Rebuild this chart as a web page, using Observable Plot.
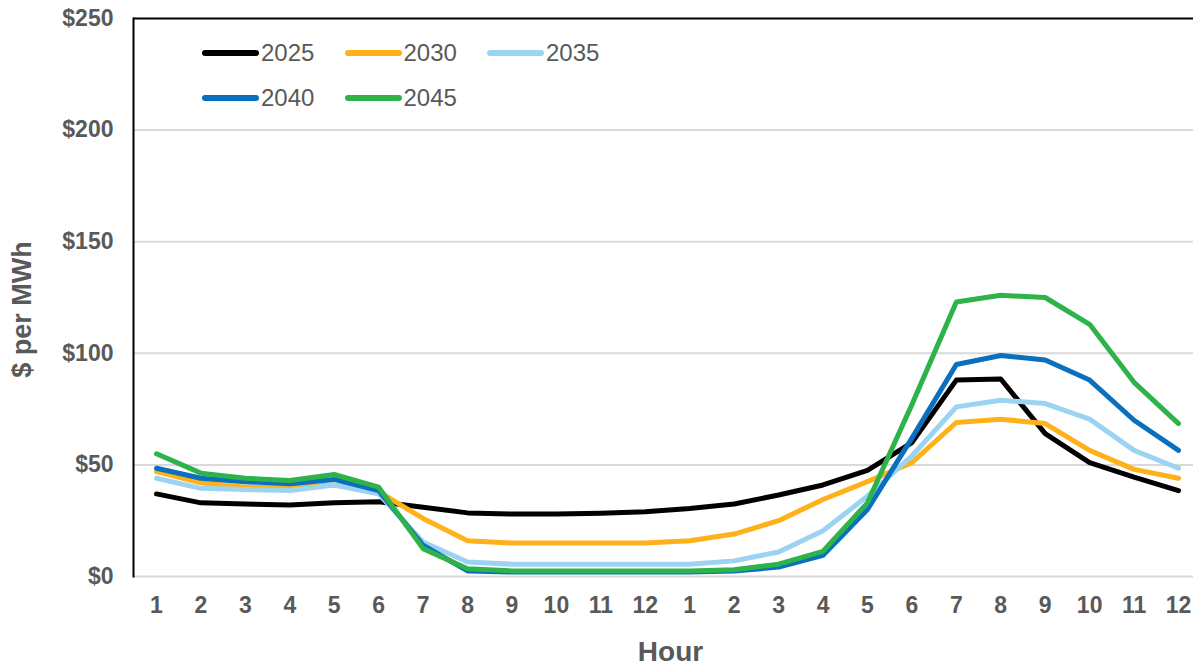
<!DOCTYPE html>
<html>
<head>
<meta charset="utf-8">
<script src="https://cdn.jsdelivr.net/npm/d3@7"></script>
<script src="https://cdn.jsdelivr.net/npm/@observablehq/plot@0.6"></script>
<style>
  html, body { margin: 0; padding: 0; background: #fff; }
  #wrap { position: relative; width: 1193px; height: 666px; font-family: "Liberation Sans", Arial, sans-serif; }
  #legend { position: absolute; left: 202px; top: 30px; font-size: 24px; color: #595959; }
  .row { display: flex; height: 45px; align-items: center; }
  .item { display: flex; align-items: center; width: 142.5px; }
  .sw { width: 57px; height: 6px; border-radius: 3px; margin-right: 2px; }
</style>
</head>
<body>
<div id="wrap"><div id="chart"></div><div id="legend"></div></div>
<script>
const hourLabels = ["1","2","3","4","5","6","7","8","9","10","11","12","1","2","3","4","5","6","7","8","9","10","11","12"];
const years = ["2025","2030","2035","2040","2045"];
const colors = ["#000000","#FFB119","#9DD3F2","#0A70BE","#2DB34A"];
const y2025 = [37,33,32.5,32,33,33.5,31,28.5,28,28,28.3,29,30.5,32.5,36.5,41,47.5,60,88,88.5,64,51,44.5,38.5];
const y2030 = [47,42,40,40,41,38,26,16,15,15,15,15,16,19,25,34.5,42.5,51,69,70.5,68.5,56.5,48,44];
const y2035 = [44,39.5,39,38.5,41,37,15.5,6.5,5.5,5.5,5.5,5.5,5.5,7,11,20.5,36,54,76,79,77.5,70.5,56.5,48.5];
const y2040 = [48.5,44,42.5,41.5,43.5,38.5,14,2.5,2,2,2,2,2,2.5,4.2,9.5,30,62,95,99,97,88,70,56.5];
const y2045 = [55,46.3,44,43,45.7,40,12.5,3.5,2.5,2.5,2.5,2.5,2.5,3,5.5,11.3,33,77,123,126,125,113,87,68.5];
const yTicks = [0,50,100,150,200,250];

const seriesValues = [y2025,y2030,y2035,y2040,y2045];
const data = [];
years.forEach((yr, s) => seriesValues[s].forEach((v, i) => data.push({year: yr, idx: i, value: v})));

const font = '"Liberation Sans", Arial, sans-serif';
const chart = Plot.plot({
  width: 1193,
  height: 666,
  marginLeft: 133,
  marginRight: 0,
  marginTop: 18,
  marginBottom: 90,
  style: {fontFamily: font, background: "#fff"},
  x: {domain: [0, 23], range: [156, 1178]},
  y: {domain: [0, 250]},
  color: {domain: years, range: colors},
  marks: [
    Plot.gridY(yTicks.slice(0, 5), {stroke: "#d9d9d9", strokeOpacity: 1, strokeWidth: 2}),
    Plot.axisX(d3.range(24), {tickSize: 0, tickPadding: 20, tickFormat: i => hourLabels[i], fontSize: 23, fontWeight: "bold", fill: "#595959", label: null}),
    Plot.axisY(yTicks, {tickSize: 0, tickPadding: 20, tickFormat: d => "$" + d, fontSize: 23, fontWeight: "bold", fill: "#595959", label: null}),
    Plot.line(data, {x: "idx", y: "value", z: "year", stroke: "year", strokeWidth: 5, strokeLinejoin: "round", strokeLinecap: "round"}),
    Plot.ruleY([250], {stroke: "#000", strokeWidth: 2}),
    Plot.frame({anchor: "left", stroke: "#000", strokeWidth: 2}),
    Plot.text(["Hour"], {frameAnchor: "bottom", dx: 7, dy: 76, lineAnchor: "middle", fontSize: 28, fontWeight: "bold", fill: "#595959", textAnchor: "middle"}),
    Plot.text(["$ per MWh"], {frameAnchor: "left", dx: -111, dy: 12, rotate: -90, textAnchor: "middle", lineAnchor: "middle", fontSize: 27, fontWeight: "bold", fill: "#595959"})
  ]
});
document.getElementById("chart").appendChild(chart);

const legend = document.getElementById("legend");
const rows = [[0,1,2],[3,4]];
rows.forEach(r => {
  const row = document.createElement("div");
  row.className = "row";
  r.forEach(i => {
    const it = document.createElement("div");
    it.className = "item";
    it.innerHTML = `<div class="sw" style="background:${colors[i]}"></div><span>${years[i]}</span>`;
    row.appendChild(it);
  });
  legend.appendChild(row);
});
</script>
</body>
</html>
